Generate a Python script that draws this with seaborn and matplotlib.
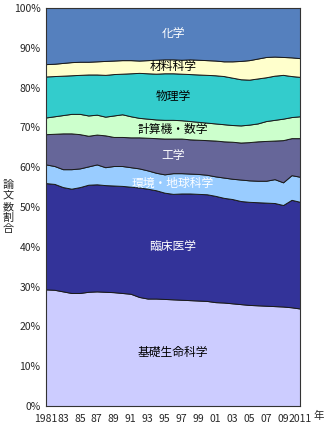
import numpy as np
import matplotlib
matplotlib.use("Agg")
import matplotlib.pyplot as plt
import seaborn as sns

# Share of papers by field (%), 1981-2011
years = list(range(1981, 2012))
fields = ["基礎生命科学", "臨床医学", "環境・地球科学", "工学",
          "計算機・数学", "物理学", "材料科学", "化学"]

basic_life = [29.3, 29.2, 28.8, 28.4, 28.4, 28.7, 28.8, 28.7, 28.6, 28.4,
              28.2, 27.4, 27.0, 27.0, 26.9, 26.8, 26.7, 26.6, 26.5, 26.4,
              26.1, 26.0, 25.8, 25.6, 25.4, 25.3, 25.2, 25.1, 25.0, 24.8, 24.5]
clinical = [26.7, 26.6, 26.2, 26.2, 26.6, 26.9, 26.9, 26.8, 26.8, 26.9,
            26.9, 27.5, 27.6, 27.2, 26.7, 26.5, 26.7, 26.8, 26.8, 26.8,
            26.7, 26.3, 26.2, 25.9, 25.9, 25.9, 25.9, 25.9, 25.5, 27.0, 26.8]
environment = [4.7, 4.5, 4.5, 4.9, 4.7, 4.6, 5.0, 4.5, 4.9, 5.0,
               4.9, 4.8, 4.6, 4.4, 4.6, 5.2, 5.1, 5.0, 5.0, 4.9,
               4.9, 5.1, 5.1, 5.4, 5.4, 5.4, 5.5, 6.0, 5.7, 6.2, 6.3]
engineering = [7.6, 8.1, 9.0, 9.0, 8.6, 7.7, 7.5, 8.0, 7.3, 7.3,
               7.5, 7.8, 8.2, 8.7, 9.0, 8.7, 8.7, 8.6, 8.6, 8.7,
               9.0, 9.1, 9.3, 9.3, 9.6, 9.9, 10.0, 9.7, 10.6, 9.3, 9.7]
computing_math = [4.2, 4.4, 4.6, 4.9, 5.1, 5.1, 5.0, 4.7, 5.4, 5.7,
                  5.3, 4.9, 4.8, 4.7, 4.7, 4.7, 4.6, 4.6, 4.5, 4.4,
                  4.3, 4.3, 4.2, 4.3, 4.4, 4.5, 5.0, 5.2, 5.4, 5.3, 5.5]
physics = [10.3, 10.1, 9.9, 9.7, 9.8, 10.3, 10.1, 10.5, 10.4, 10.2,
           10.8, 11.3, 11.4, 11.5, 11.7, 11.7, 11.7, 11.8, 11.9, 12.0,
           12.1, 12.1, 11.9, 11.6, 11.3, 11.3, 11.0, 11.1, 11.0, 10.3, 9.9]
materials = [3.1, 3.1, 3.2, 3.3, 3.3, 3.2, 3.3, 3.5, 3.4, 3.4,
             3.3, 3.1, 3.3, 3.5, 3.5, 3.5, 3.5, 3.7, 3.7, 3.7,
             3.7, 3.7, 4.1, 4.6, 4.9, 5.0, 5.1, 4.8, 4.5, 4.7, 4.7]
chemistry = [14.1, 14.0, 13.8, 13.6, 13.5, 13.5, 13.4, 13.3, 13.2, 13.1,
             13.1, 13.2, 13.1, 13.0, 12.9, 12.9, 13.0, 12.9, 13.0, 13.1,
             13.2, 13.4, 13.4, 13.3, 13.1, 12.7, 12.3, 12.2, 12.3, 12.4, 12.6]

series = [basic_life, clinical, environment, engineering,
          computing_math, physics, materials, chemistry]
colors = ["#CCCCFF", "#333399", "#99CCFF", "#666699",
          "#CCFFCC", "#33CCCC", "#FFFFCC", "#5580BE"]
text_colors = ["black", "white", "white", "white",
               "black", "black", "black", "white"]

xtick_years = list(range(1981, 2012, 2))
xtick_labels = ["1981"] + [f"{y % 100:02d}" for y in xtick_years[1:-1]] + ["2011"]

sns.set_theme(style="white")
plt.rcParams["font.family"] = ["Noto Sans CJK JP", "DejaVu Sans"]

fig = plt.figure(figsize=(3.3, 4.3), dpi=100)
ax = fig.add_axes([46 / 330, 24 / 430, 254 / 330, 398 / 430])

data = np.array(series, dtype=float)
ax.stackplot(years, data, colors=colors, edgecolor="#1a1a1a", linewidth=0.7)

ax.set_xlim(years[0], years[-1])
ax.set_ylim(0, 100)

# Field names at the middle of each band
cum = np.cumsum(data, axis=0)
lab_year = 1996
idx = years.index(lab_year)
for i, name in enumerate(fields):
    lower = cum[i - 1, idx] if i > 0 else 0.0
    mid = (lower + cum[i, idx]) / 2
    ax.text(lab_year, mid, name, ha="center", va="center",
            fontsize=8.5, color=text_colors[i])

ax.set_yticks(range(0, 101, 10))
ax.set_yticklabels([f"{v}%" for v in range(0, 101, 10)], fontsize=7.5)
ax.set_xticks(xtick_years)
ax.set_xticklabels(xtick_labels, fontsize=7.5)
ax.set_xticks(years, minor=True)
ax.tick_params(axis="both", which="both", direction="in", length=3,
               width=0.6, color="black", pad=4, left=True, bottom=True)
ax.tick_params(axis="x", which="major", pad=6)

for side in ["left", "bottom", "right", "top"]:
    ax.spines[side].set_visible(True)
    ax.spines[side].set_color("#333333")
    ax.spines[side].set_linewidth(0.8)

fig.text(319 / 330, 1 - 416 / 430, "年", ha="center", va="center", fontsize=7.5)
fig.text(8 / 330, 1 - 207 / 430, "\n".join("論文数割合"), ha="center",
         va="center", fontsize=8, linespacing=1.15)

fig.savefig("out.png", dpi=100)
